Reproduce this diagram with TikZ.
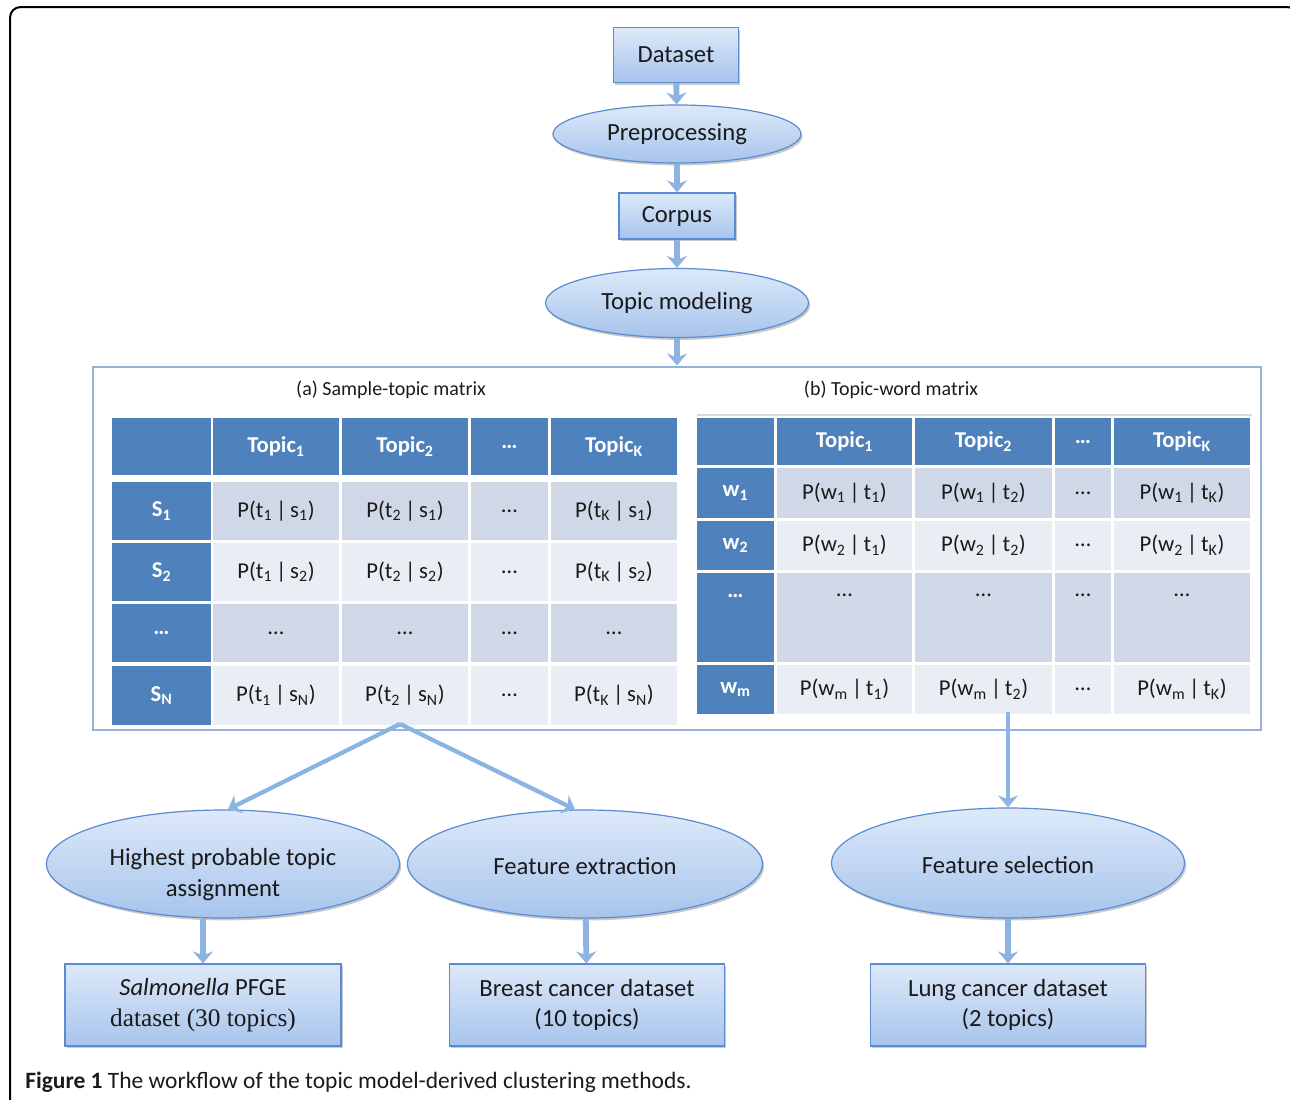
\documentclass[tikz,border=0pt]{standalone}
\usepackage{fontspec}
\setmainfont{Carlito}
\newfontfamily\serifpart{Liberation Serif}
\usetikzlibrary{shapes.geometric,arrows.meta,shadows,calc}

\definecolor{hdrblue}{HTML}{4F81BD}
\definecolor{rowdark}{HTML}{D0D8E8}
\definecolor{rowlight}{HTML}{E9EDF4}
\definecolor{boxtop}{HTML}{DDE9F9}
\definecolor{boxbot}{HTML}{A7C4EC}
\definecolor{boxline}{HTML}{5B8BD0}
\definecolor{arrowblue}{HTML}{8DB3E2}
\definecolor{framecol}{HTML}{95B3D7}
\definecolor{txt}{HTML}{1A1A1A}

\newcommand{\cellnode}[8][]{%
  \node[cell,fill=#7,minimum width={(#4-#2)*0.75pt},minimum height={(#5-#3)*0.75pt},#1] (#6) at ({(#2+#4)/2},{(#3+#5)/2}) {#8};}

\begin{document}
\begin{tikzpicture}[x=0.75pt,y=-0.75pt,
  shadowed/.style={drop shadow={shadow xshift=1.2pt,shadow yshift=-1.8pt,opacity=0.3,fill=black!70}},
  flowbox/.style={rectangle,draw=boxline,line width=0.9pt,top color=boxtop,bottom color=boxbot,
    inner sep=0pt,shadowed,font=\fontsize{18.5}{23}\selectfont,text=txt,align=center},
  flowell/.style={ellipse,draw=boxline,line width=0.9pt,top color=boxtop,bottom color=boxbot,
    inner sep=0pt,shadowed,font=\fontsize{18.5}{23}\selectfont,text=txt,align=center},
  flowarrow/.style={draw=arrowblue,line width=4.4pt,-{Stealth[length=9pt,width=15pt,inset=3pt]}},
  longarrow/.style={draw=arrowblue,line width=3.2pt,-{Stealth[length=9pt,width=15pt,inset=3pt]}},
  cell/.style={rectangle,inner sep=0pt,font=\fontsize{17}{20}\selectfont,text=txt},
  hdr/.style={text=white,font=\fontsize{17}{20}\selectfont\bfseries},
  titletext/.style={font=\fontsize{15}{18}\selectfont,text=txt,inner sep=0pt}
]
\useasboundingbox (0,0) rectangle (1290,1100);
\clip (0,0) rectangle (1290,1100);

% outer frame
\draw[line width=1.5pt,rounded corners=8pt] (10,1130) -- (10,7) -- (1298,7) -- (1298,1130) -- cycle;

% top flow
\node[flowbox,minimum width=125*0.75pt,minimum height=55*0.75pt] (dataset) at (676,55) {Dataset};
\node[flowell,minimum width=248*0.75pt,minimum height=58*0.75pt] (pre) at (677,134) {Preprocessing};
\node[flowbox,minimum width=116*0.75pt,minimum height=46*0.75pt] (corpus) at (677,216) {Corpus};
\node[flowell,minimum width=263*0.75pt,minimum height=69*0.75pt] (topic) at (677,303) {Topic modeling};

% big frame
\node[rectangle,draw=framecol,line width=2.2pt,minimum width=1168*0.75pt,minimum height=363*0.75pt,inner sep=0pt] (frame) at (677,548.5) {};

\draw[flowarrow] (dataset) -- (pre);
\draw[flowarrow] (pre) -- (corpus);
\draw[flowarrow] (corpus) -- (topic);
\draw[flowarrow] (topic) -- (frame);

% titles
\node[titletext] (ta) at (391,390) {(a) Sample-topic matrix};
\node[titletext] (tb) at (891,390) {(b) Topic-word matrix};

% ---------- table (a)
\cellnode[hdr]{112}{418}{211}{475}{a00}{hdrblue}{}
\cellnode[hdr]{213}{418}{339}{475}{a01}{hdrblue}{Topic\textsubscript{1}}
\cellnode[hdr]{342}{418}{468}{475}{a02}{hdrblue}{Topic\textsubscript{2}}
\cellnode[hdr]{471}{418}{548}{475}{a03}{hdrblue}{…}
\cellnode[hdr]{551}{418}{677}{475}{a04}{hdrblue}{Topic\textsubscript{K}}

\cellnode[hdr]{112}{482}{211}{540}{a10}{hdrblue}{S\textsubscript{1}}
\cellnode{213}{482}{339}{540}{a11}{rowdark}{P(t\textsubscript{1}\,|\,s\textsubscript{1})}
\cellnode{342}{482}{468}{540}{a12}{rowdark}{P(t\textsubscript{2}\,|\,s\textsubscript{1})}
\cellnode{471}{482}{548}{540}{a13}{rowdark}{…}
\cellnode{551}{482}{677}{540}{a14}{rowdark}{P(t\textsubscript{K}\,|\,s\textsubscript{1})}

\cellnode[hdr]{112}{543}{211}{601}{a20}{hdrblue}{S\textsubscript{2}}
\cellnode{213}{543}{339}{601}{a21}{rowlight}{P(t\textsubscript{1}\,|\,s\textsubscript{2})}
\cellnode{342}{543}{468}{601}{a22}{rowlight}{P(t\textsubscript{2}\,|\,s\textsubscript{2})}
\cellnode{471}{543}{548}{601}{a23}{rowlight}{…}
\cellnode{551}{543}{677}{601}{a24}{rowlight}{P(t\textsubscript{K}\,|\,s\textsubscript{2})}

\cellnode[hdr]{112}{604}{211}{662}{a30}{hdrblue}{…}
\cellnode{213}{604}{339}{662}{a31}{rowdark}{…}
\cellnode{342}{604}{468}{662}{a32}{rowdark}{…}
\cellnode{471}{604}{548}{662}{a33}{rowdark}{…}
\cellnode{551}{604}{677}{662}{a34}{rowdark}{…}

\cellnode[hdr]{112}{666}{211}{725}{a40}{hdrblue}{S\textsubscript{N}}
\cellnode{213}{666}{339}{725}{a41}{rowlight}{P(t\textsubscript{1}\,|\,s\textsubscript{N})}
\cellnode{342}{666}{468}{725}{a42}{rowlight}{P(t\textsubscript{2}\,|\,s\textsubscript{N})}
\cellnode{471}{666}{548}{725}{a43}{rowlight}{…}
\cellnode{551}{666}{677}{725}{a44}{rowlight}{P(t\textsubscript{K}\,|\,s\textsubscript{N})}

% ---------- table (b)
\draw[black!15,line width=0.8pt] (697,415) -- (1252,415);
\cellnode[hdr]{697}{418}{774}{465}{b00}{hdrblue}{}
\cellnode[hdr]{777}{418}{912}{465}{b01}{hdrblue}{Topic\textsubscript{1}}
\cellnode[hdr]{915}{418}{1052}{465}{b02}{hdrblue}{Topic\textsubscript{2}}
\cellnode[hdr]{1055}{418}{1111}{465}{b03}{hdrblue}{…}
\cellnode[hdr]{1114}{418}{1250}{465}{b04}{hdrblue}{Topic\textsubscript{K}}

\cellnode[hdr]{697}{468}{774}{518}{b10}{hdrblue}{w\textsubscript{1}}
\cellnode{777}{468}{912}{518}{b11}{rowdark}{P(w\textsubscript{1}\,|\,t\textsubscript{1})}
\cellnode{915}{468}{1052}{518}{b12}{rowdark}{P(w\textsubscript{1}\,|\,t\textsubscript{2})}
\cellnode{1055}{468}{1111}{518}{b13}{rowdark}{…}
\cellnode{1114}{468}{1250}{518}{b14}{rowdark}{P(w\textsubscript{1}\,|\,t\textsubscript{K})}

\cellnode[hdr]{697}{521}{774}{570}{b20}{hdrblue}{w\textsubscript{2}}
\cellnode{777}{521}{912}{570}{b21}{rowlight}{P(w\textsubscript{2}\,|\,t\textsubscript{1})}
\cellnode{915}{521}{1052}{570}{b22}{rowlight}{P(w\textsubscript{2}\,|\,t\textsubscript{2})}
\cellnode{1055}{521}{1111}{570}{b23}{rowlight}{…}
\cellnode{1114}{521}{1250}{570}{b24}{rowlight}{P(w\textsubscript{2}\,|\,t\textsubscript{K})}

\cellnode[hdr,text depth=33pt]{697}{573}{774}{662}{b30}{hdrblue}{…}
\cellnode[text depth=33pt]{777}{573}{912}{662}{b31}{rowdark}{…}
\cellnode[text depth=33pt]{915}{573}{1052}{662}{b32}{rowdark}{…}
\cellnode[text depth=33pt]{1055}{573}{1111}{662}{b33}{rowdark}{…}
\cellnode[text depth=33pt]{1114}{573}{1250}{662}{b34}{rowdark}{…}

\cellnode[hdr]{697}{665}{774}{714}{b40}{hdrblue}{w\textsubscript{m}}
\cellnode{777}{665}{912}{714}{b41}{rowlight}{P(w\textsubscript{m}\,|\,t\textsubscript{1})}
\cellnode{915}{665}{1052}{714}{b42}{rowlight}{P(w\textsubscript{m}\,|\,t\textsubscript{2})}
\cellnode{1055}{665}{1111}{714}{b43}{rowlight}{…}
\cellnode{1114}{665}{1250}{714}{b44}{rowlight}{P(w\textsubscript{m}\,|\,t\textsubscript{K})}

% ---------- bottom part
\node[flowell,minimum width=353*0.75pt,minimum height=108*0.75pt,
  label={[align=center,font=\fontsize{18.5}{23}\selectfont,text=txt,yshift=-8pt]center:Highest probable topic\\assignment}] (hpt) at (223,864) {};
\node[flowell,minimum width=355*0.75pt,minimum height=108*0.75pt,text height=16pt] (fe) at (585,864) {Feature extraction};
\node[flowell,minimum width=353*0.75pt,minimum height=110*0.75pt,text height=16pt] (fs) at (1008,863) {Feature selection};

\node[flowbox,minimum width=276*0.75pt,minimum height=82*0.75pt] (sal) at (203,1005) {\textit{Salmonella} PFGE\\{\serifpart\fontsize{19}{23}\selectfont dataset (30 topics)}};
\node[flowbox,minimum width=275*0.75pt,minimum height=82*0.75pt] (breast) at (587,1005) {Breast cancer dataset\\(10 topics)};
\node[flowbox,minimum width=275*0.75pt,minimum height=82*0.75pt] (lung) at (1008,1005) {Lung cancer dataset\\(2 topics)};

\coordinate (asplit) at (400,724);
\coordinate (bsplit) at (1008,712);
\draw[longarrow] (asplit) -- ($(hpt.north)+(5,0)$);
\draw[longarrow] (asplit) -- ($(fe.north)+(-10,0)$);
\draw[longarrow] (bsplit) -- (fs);

\draw[flowarrow] (hpt.south -| sal.north) -- (sal);
\draw[flowarrow] (fe) -- (breast);
\draw[flowarrow] (fs) -- (lung);

% caption
\node[anchor=west,inner sep=0pt,font=\fontsize{17.6}{20}\selectfont,text=txt] (caption) at (25,1082)
  {\textbf{Figure 1} The workflow of the topic model-derived clustering methods.};
\end{tikzpicture}
\end{document}
